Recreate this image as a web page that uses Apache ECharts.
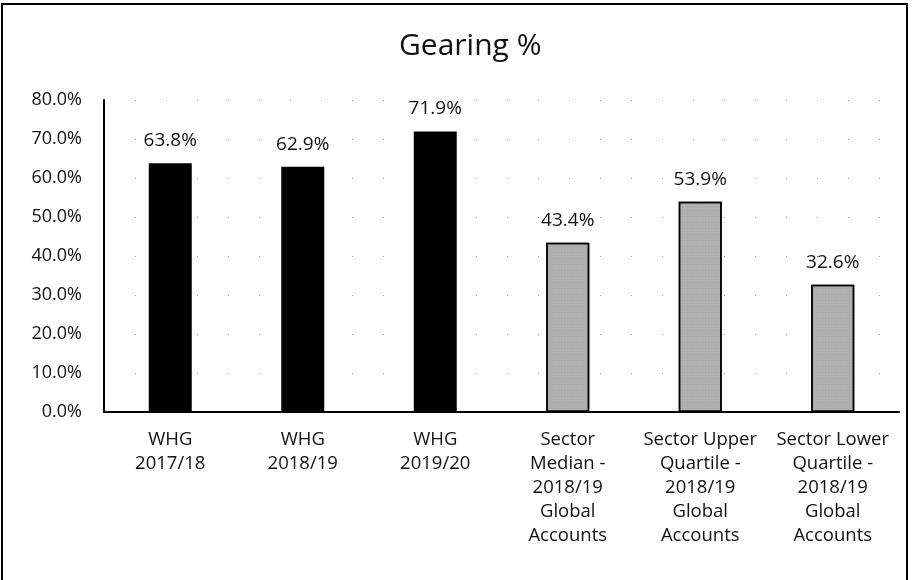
<!DOCTYPE html>
<html><head><meta charset="utf-8">
<script src="https://cdn.jsdelivr.net/npm/echarts@6/dist/echarts.min.js"></script>
<style>
html,body{margin:0;padding:0;background:#fff;}
#frame{position:absolute;left:1px;top:3px;width:907px;height:577px;border:2px solid #000;border-bottom:none;box-sizing:border-box;}
#c{position:absolute;left:0;top:0;width:912px;height:580px;}
</style></head>
<body>
<div id="frame"></div>
<div id="c"></div>
<script>
const categories = ["WHG\n2017/18","WHG\n2018/19","WHG\n2019/20","Sector\nMedian -\n2018/19\nGlobal\nAccounts","Sector Upper\nQuartile -\n2018/19\nGlobal\nAccounts","Sector Lower\nQuartile -\n2018/19\nGlobal\nAccounts"];
const values = [63.8, 62.9, 71.9, 43.4, 53.9, 32.6];
const isSector = [false, false, false, true, true, true];
const yTicks = [0, 10, 20, 30, 40, 50, 60, 70, 80];

const font = '"Open Sans", Lato, sans-serif';
const chart = echarts.init(document.getElementById('c'), null, {renderer:'canvas'});
chart.setOption({
  backgroundColor: 'transparent',
  animation: false,
  title: {text: 'Gearing %', left: 394, top: 26, textStyle:{fontFamily: font, fontWeight:'normal', fontSize: 30, color:'#111'}},
  grid: {left: 104, right: 13, top: 100, bottom: 168},
  xAxis: {
    type: 'category', data: categories,
    axisLine: {lineStyle:{color:'#000', width:2}},
    axisTick: {show:false},
    axisLabel: {fontFamily: font, fontSize: 18.5, color:'#111', lineHeight: 24, margin: 16, interval: 0}
  },
  yAxis: {
    type: 'value', min: yTicks[0], max: yTicks[yTicks.length-1], interval: 10,
    axisLine: {show:true, lineStyle:{color:'#000', width:2}},
    axisTick: {show:false},
    axisLabel: {fontFamily: font, fontSize: 18, color:'#111', margin: 22, formatter: v => v.toFixed(1) + '%'},
    splitLine: {show:true, lineStyle:{color:'#999', type:[1, 30], width:1}}
  },
  series: [{
    type: 'bar', barWidth: 43,
    data: values.map((v,i) => ({value: v, itemStyle: isSector[i] ? {color:'#b0b0b0', borderColor:'#000', borderWidth:1.5, decal:{symbol:'rect', symbolSize:0.3, dashArrayX:[[1,2],[2,1]], dashArrayY:[1,2], color:'rgba(80,80,80,0.5)'}} : {color:'#000'}})),
    label: {show:true, position:'top', distance: 13, fontFamily: font, fontSize: 19, color:'#111', formatter: p => p.value.toFixed(1) + '%'}
  }]
});
</script>
</body></html>
